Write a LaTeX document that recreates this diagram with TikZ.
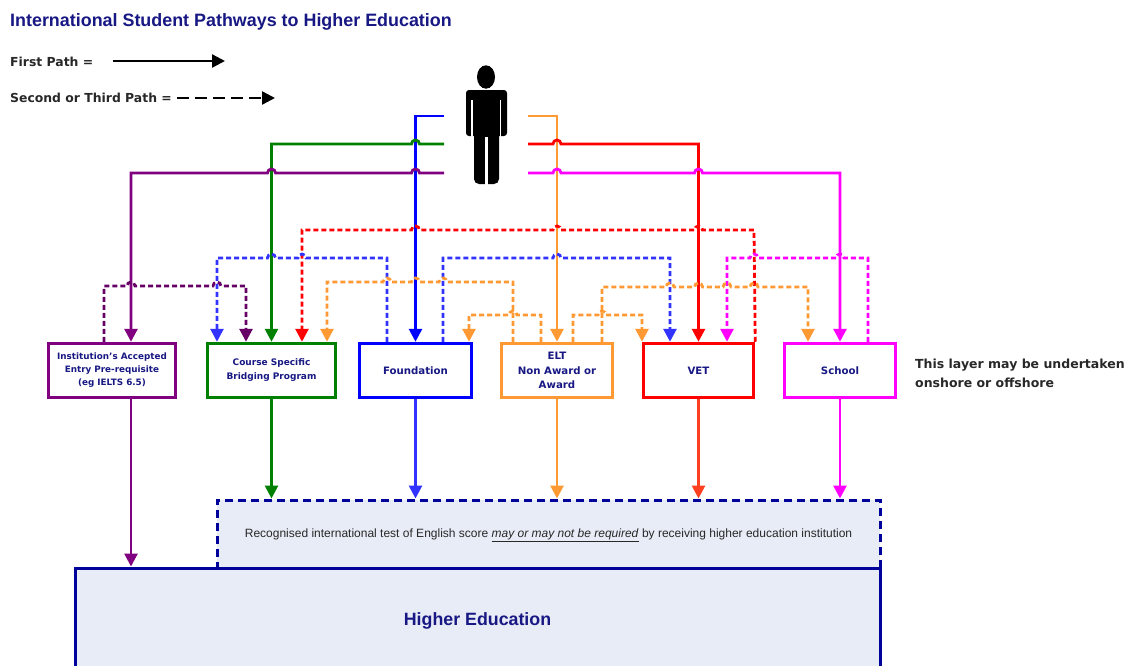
\documentclass[tikz,border=0pt]{standalone}
\usepackage{fontspec}
\setmainfont{DejaVu Sans}
\newfontfamily\arialfont{Liberation Sans}
\usetikzlibrary{arrows.meta}
\definecolor{navytext}{RGB}{24,24,132}
\definecolor{navyline}{RGB}{0,0,155}
\definecolor{hefill}{RGB}{232,236,246}
\definecolor{txtgray}{RGB}{40,40,40}
\definecolor{purp}{RGB}{128,0,128}
\definecolor{dpurp}{RGB}{102,0,102}
\definecolor{grn}{RGB}{0,128,0}
\definecolor{blu}{RGB}{0,0,255}
\definecolor{lblu}{RGB}{51,51,255}
\definecolor{orng}{RGB}{255,153,51}
\definecolor{rd}{RGB}{255,0,0}
\definecolor{ored}{RGB}{255,64,32}
\definecolor{mgnt}{RGB}{255,0,255}

\begin{document}
\begin{tikzpicture}[x=1pt, y=-1pt,
    pathbox/.style={draw, line width=3pt, minimum height=54.5pt, align=center, text=navytext, font=\bfseries\fontsize{10.2}{14.5}\selectfont},
    lbl/.style={inner sep=0pt, anchor=base west, font=\bfseries\fontsize{12.4}{14}\selectfont, text=txtgray},
    first/.style={line width=2.8pt, arrows={-Triangle[width=13pt,length=13pt]}},
    second/.style={first, dash pattern=on 5pt off 3pt},
    hopl/.style args={#1,#2}{insert path={-- (#1+4,#2) arc[start angle=0,end angle=180,radius=4pt]}},
    hopr/.style args={#1,#2}{insert path={-- (#1-4,#2) arc[start angle=180,end angle=0,radius=4pt]}}]
  \clip (0,0) rectangle (1130,665);
  \fill[white] (0,0) rectangle (1130,665);

  \node[lbl, text=navytext, font=\arialfont\bfseries\fontsize{17.9}{20}\selectfont] (title) at (10,26) {International Student Pathways to Higher Education};
  \node[lbl] (firstlbl) at (10,66) {First Path =};
  \node[lbl] (secondlbl) at (10,102) {Second or Third Path =};
  \coordinate (fa) at (113,61);
  \coordinate (fb) at (225,61);
  \coordinate (sa) at (177,98);
  \coordinate (sb) at (275,98);
  \draw[first, line width=2.4pt] (fa) -- (fb);
  \draw[second, line width=2.4pt, dash pattern=on 12pt off 6pt] (sa) -- (sb);

  \fill (486,77) ellipse [x radius=9pt, y radius=11.7pt];
  \fill[rounded corners=3pt] (466,90) rectangle (507,136);
  \fill[rounded corners=5pt] (474,120) rectangle (499,184);
  \draw[white, line width=1.2pt] (472,100) -- (472,137);
  \draw[white, line width=1.2pt] (500.5,100) -- (500.5,137);
  \draw[white, line width=2.5pt] (486.5,137) -- (486.5,185);
  \coordinate (lb) at (444,116);
  \coordinate (lg) at (444,144);
  \coordinate (lp) at (444,173);
  \coordinate (ro) at (528,116);
  \coordinate (rr) at (528,144);
  \coordinate (rm) at (528,173);

  \node[pathbox, draw=purp, minimum width=127.5pt, font=\bfseries\fontsize{8.8}{13}\selectfont] (inst) at (112,370.5) {Institution's Accepted\\Entry Pre-requisite\\(eg IELTS 6.5)};
  \node[pathbox, draw=grn, minimum width=128.5pt, font=\bfseries\fontsize{9}{14}\selectfont] (course) at (271.5,370.5) {Course Specific\\Bridging Program};
  \node[pathbox, draw=blu, minimum width=111.5pt] (found) at (415.5,370.5) {Foundation};
  \node[pathbox, draw=orng, minimum width=111.5pt] (elt) at (557,370.5) {ELT\\Non Award or\\Award};
  \node[pathbox, draw=rd, minimum width=110.5pt] (vet) at (698.5,370.5) {VET};
  \node[pathbox, draw=mgnt, minimum width=111.5pt] (school) at (840,370.5) {School};
  \node[lbl, align=left, font=\bfseries\fontsize{12.5}{18.5}\selectfont] (layer) at (915,387) {This layer may be undertaken\\onshore or offshore};

  \draw[first, blu] (lb) -| (found.north);
  \draw[first, grn] (lg) [hopl={415.5,144}] -| (course.north);
  \draw[first, purp] (lp) [hopl={415.5,173}] [hopl={271.5,173}] -| ([xshift=19pt]inst.north);
  \draw[first, orng] (ro) -| (elt.north);
  \draw[first, rd] (rr) [hopr={557,144}] -| (vet.north);
  \draw[first, mgnt] (rm) [hopr={557,173}] [hopr={698.5,173}] -| (school.north);

  \draw[second, rd] (vet.north east) -- (754,230) [hopl={698.5,230}] [hopl={557,230}] [hopl={415.5,230}] -- (302,230) -- ([xshift=30.5pt]course.north);
  \draw[second, lblu] ([xshift=-28.5pt]found.north) -- (387,258) [hopl={302,258}] [hopl={271.5,258}] -- (217,258) -- ([xshift=-54.5pt]course.north);
  \draw[second, lblu] ([xshift=27.5pt]found.north) -- (443,258) [hopr={557,258}] -- (670,258) -- ([xshift=-28.5pt]vet.north);
  \draw[second, mgnt] ([xshift=28pt]school.north) -- (868,258) [hopl={840,258}] [hopl={754,258}] -- (727,258) -- ([xshift=28.5pt]vet.north);
  \draw[second, orng] ([xshift=-44pt]elt.north) -- (513,282) [hopl={443,282}] [hopl={415.5,282}] [hopl={387,282}] -- (327,282) -- ([xshift=55.5pt]course.north);
  \draw[second, dpurp] ([xshift=-8pt]inst.north) -- (104,286) [hopr={131,286}] [hopr={217,286}] -- (246,286) -- ([xshift=-25.5pt]course.north);
  \draw[second, orng] ([xshift=45pt]elt.north) -- (602,287) [hopr={670,287}] [hopr={698.5,287}] [hopr={727,287}] [hopr={754,287}] -- (808,287) -- ([xshift=-32pt]school.north);
  \draw[second, orng] ([xshift=-16pt]elt.north) -- (541,315) [hopl={513,315}] -- (469,315) -- ([xshift=53.5pt]found.north);
  \draw[second, orng] ([xshift=16pt]elt.north) -- (573,315) [hopr={602,315}] -- (642,315) -- ([xshift=-56.5pt]vet.north);

  \node[draw=navyline, fill=hefill, line width=3pt, dash pattern=on 8pt off 5pt, minimum width=663pt, minimum height=68pt, text height=9pt, text depth=2pt, text=txtgray, font=\arialfont\fontsize{12}{14}\selectfont] (req) at (548.5,534) {Recognised international test of English score \underline{\textit{may or may not be required}} by receiving higher education institution};
  \node[draw=navyline, fill=hefill, line width=3pt, minimum width=805pt, minimum height=105pt, text=navytext, font=\arialfont\bfseries\fontsize{17.8}{20}\selectfont] (hed) at (477.5,620.5) {Higher Education};

  \draw[first, purp] ([xshift=19pt]inst.south) coordinate (ia) -- (ia |- hed.north);
  \draw[first, grn] (course.south) -- (course.south |- req.north);
  \draw[first, lblu] (found.south) -- (found.south |- req.north);
  \draw[first, orng] (elt.south) -- (elt.south |- req.north);
  \draw[first, ored] (vet.south) -- (vet.south |- req.north);
  \draw[first, mgnt] (school.south) -- (school.south |- req.north);
\end{tikzpicture}
\end{document}
